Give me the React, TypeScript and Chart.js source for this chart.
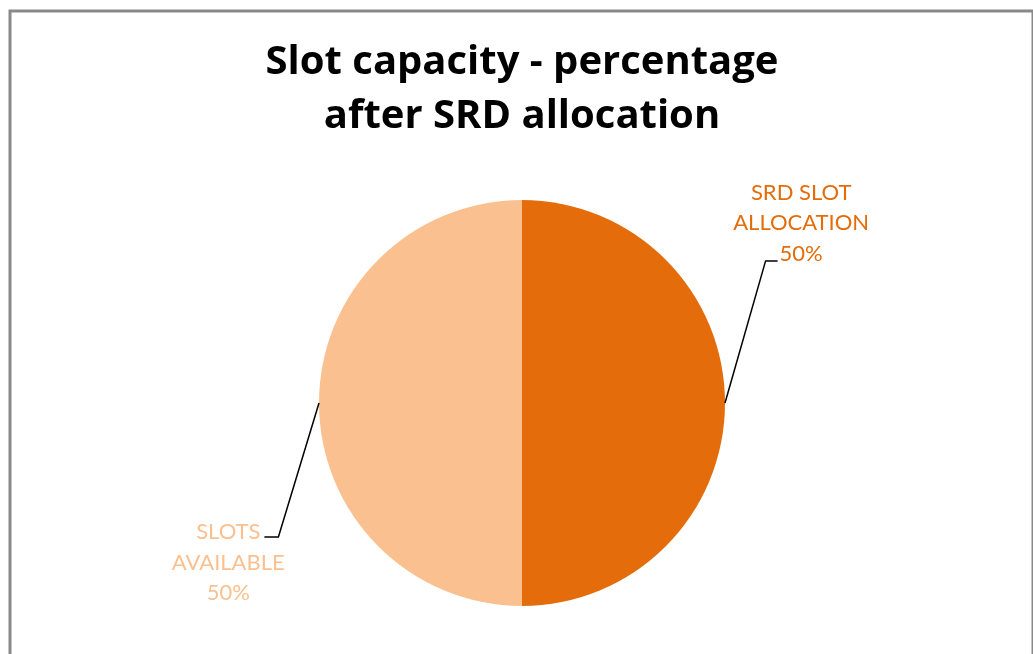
import React, { useEffect, useRef } from "react";
import { Chart, registerables } from "chart.js";

Chart.register(...registerables);

const categories = ["SRD SLOT ALLOCATION", "SLOTS AVAILABLE"];
const labelLines = [["SRD SLOT", "ALLOCATION"], ["SLOTS", "AVAILABLE"]];
const values = [50, 50];
const colors = ["#E46C0A", "#FAC090"];
const titleLines = ["Slot capacity - percentage", "after SRD allocation"];

const LABEL_FONT = '22px Lato, "Open Sans", sans-serif';
const TITLE_FONT = 'bold 40px "Open Sans", Lato, sans-serif';
const LEADER = {
  right: { dx: 1.2, dy: -0.7 },
  left: { dx: -1.2, dy: 0.66 },
};

const decorPlugin = {
  id: "decor",
  beforeDraw(chart: any) {
    const ctx = chart.ctx;
    ctx.save();
    ctx.fillStyle = "#ffffff";
    ctx.fillRect(0, 0, chart.width, chart.height);
    ctx.strokeStyle = "#898989";
    ctx.lineWidth = 3;
    ctx.strokeRect(10, 11, 1023, 700);
    ctx.fillStyle = "#000000";
    ctx.font = TITLE_FONT;
    ctx.textAlign = "center";
    ctx.textBaseline = "alphabetic";
    titleLines.forEach((t, i) => ctx.fillText(t, 522, 74 + i * 54));
    ctx.restore();
  },
  afterDraw(chart: any) {
    const ctx = chart.ctx;
    const meta = chart.getDatasetMeta(0);
    const total = values.reduce((a, b) => a + b, 0);
    ctx.save();
    ctx.font = LABEL_FONT;
    meta.data.forEach((arc: any, i: number) => {
      const { x, y, outerRadius, startAngle, endAngle } = arc.getProps(
        ["x", "y", "outerRadius", "startAngle", "endAngle"],
        true
      );
      const mid = (startAngle + endAngle) / 2;
      const sx = x + Math.cos(mid) * outerRadius;
      const sy = y + Math.sin(mid) * outerRadius;
      const right = Math.cos(mid) >= 0;
      const ld = right ? LEADER.right : LEADER.left;
      const ex = x + ld.dx * outerRadius;
      const ey = y + ld.dy * outerRadius;
      const lx = ex + (right ? 12 : -14);
      ctx.strokeStyle = "#000000";
      ctx.lineWidth = 1.5;
      ctx.beginPath();
      ctx.moveTo(sx, sy);
      ctx.lineTo(ex, ey);
      ctx.lineTo(lx, ey);
      ctx.stroke();

      const pct = Math.round((values[i] / total) * 100) + "%";
      const lines = [...labelLines[i], pct];
      const lh = 30.5;
      let cx: number;
      let firstY: number;
      if (right) {
        const w = ctx.measureText(lines[lines.length - 1]).width;
        cx = lx + 2 + w / 2;
        firstY = ey - 7 - (lines.length - 1) * lh;
      } else {
        const w = ctx.measureText(lines[0]).width;
        cx = lx - 4 - w / 2;
        firstY = ey - 5;
      }
      ctx.fillStyle = colors[i];
      ctx.textAlign = "center";
      ctx.textBaseline = "middle";
      lines.forEach((t, j) => ctx.fillText(t, cx, firstY + j * lh));
    });
    ctx.restore();
  },
};

export default function App() {
  const ref = useRef<HTMLCanvasElement>(null);
  useEffect(() => {
    document.body.style.margin = "0";
    const chart = new Chart(ref.current!, {
      type: "pie",
      data: {
        labels: categories,
        datasets: [
          {
            data: values,
            backgroundColor: colors,
            borderWidth: 0,
          },
        ],
      },
      options: {
        animation: false,
        responsive: false,
        rotation: 0,
        layout: { padding: { top: 200, bottom: 48, left: 319, right: 308 } },
        plugins: {
          legend: { display: false },
          tooltip: { enabled: false },
          title: { display: false },
        },
      },
      plugins: [decorPlugin],
    });
    return () => chart.destroy();
  }, []);
  return (
    <div style={{ position: "absolute", left: 0, top: 0, width: 1033, height: 654 }}>
      <canvas ref={ref} width={1033} height={654} />
    </div>
  );
}
